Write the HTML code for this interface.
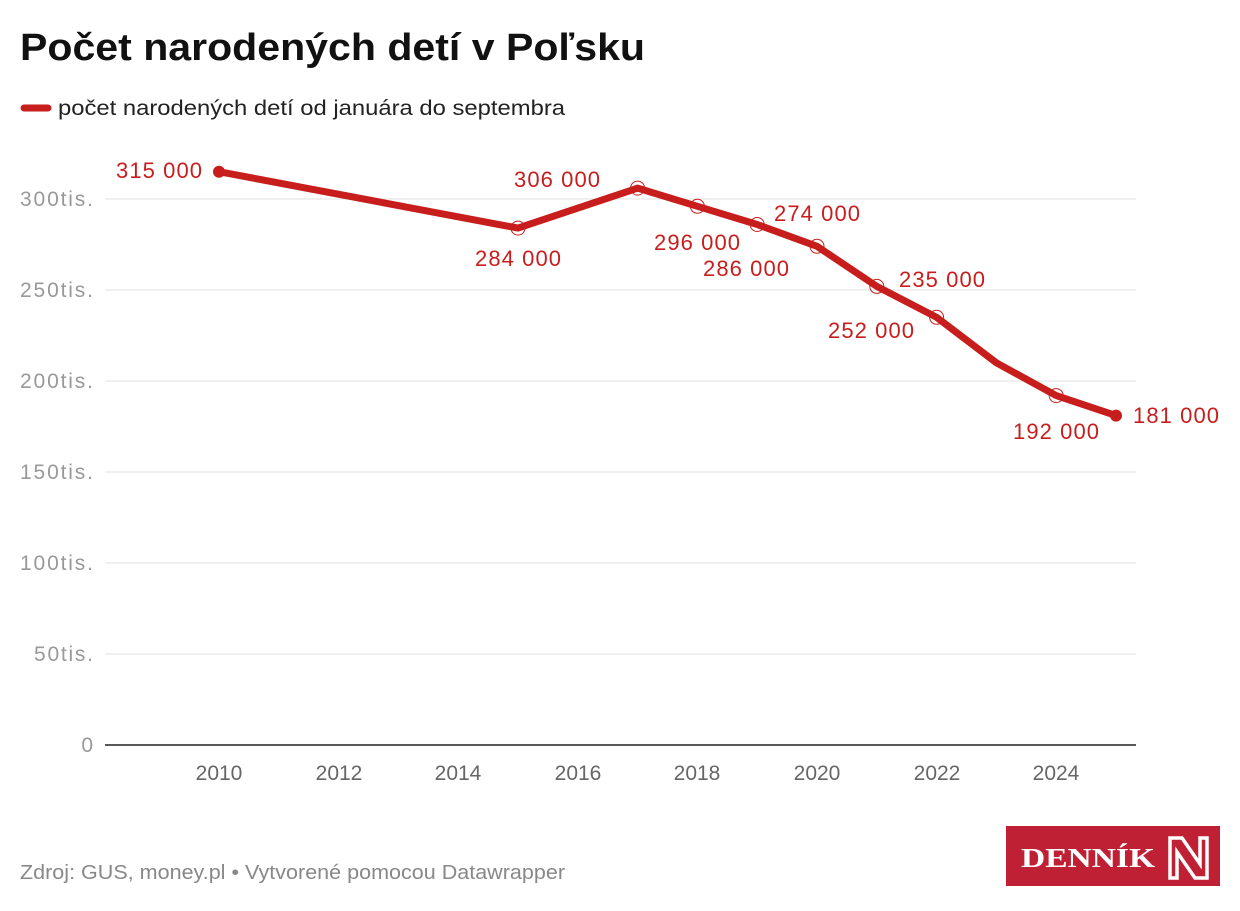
<!DOCTYPE html>
<html><head><meta charset="utf-8"><style>
body{margin:0;width:1240px;height:906px;background:#fff;font-family:"Liberation Sans",sans-serif;overflow:hidden}
</style></head><body>
<svg width="1240" height="906" xmlns="http://www.w3.org/2000/svg" font-family="Liberation Sans, sans-serif">
<text x="20" y="60" font-size="38" font-weight="bold" fill="#111" textLength="625" lengthAdjust="spacingAndGlyphs">Počet narodených detí v Poľsku</text>
<line x1="24" y1="108" x2="48" y2="108" stroke="#c71e1d" stroke-width="7" stroke-linecap="round"/>
<text x="58" y="115" font-size="21" fill="#222" textLength="507" lengthAdjust="spacingAndGlyphs">počet narodených detí od januára do septembra</text>
<g stroke="#e0e0e0" stroke-width="1">
<line x1="105" y1="654" x2="1136" y2="654"/><line x1="105" y1="563" x2="1136" y2="563"/>
<line x1="105" y1="472" x2="1136" y2="472"/><line x1="105" y1="381" x2="1136" y2="381"/>
<line x1="105" y1="290" x2="1136" y2="290"/><line x1="105" y1="199" x2="1136" y2="199"/>
</g>
<line x1="105" y1="745" x2="1136" y2="745" stroke="#222" stroke-width="1.5"/>
<g font-size="21" fill="#999" text-anchor="end">
<text x="93" y="752">0</text><text x="93" y="661" textLength="59">50tis.</text><text x="93" y="570" textLength="73">100tis.</text>
<text x="93" y="479" textLength="73">150tis.</text><text x="93" y="388" textLength="73">200tis.</text><text x="93" y="297" textLength="73">250tis.</text><text x="93" y="206" textLength="73">300tis.</text>
</g>
<g font-size="21" fill="#666" text-anchor="middle">
<text x="219" y="780">2010</text><text x="339" y="780">2012</text><text x="458" y="780">2014</text>
<text x="578" y="780">2016</text><text x="697" y="780">2018</text><text x="817" y="780">2020</text>
<text x="937" y="780">2022</text><text x="1056" y="780">2024</text>
</g>
<polyline fill="none" stroke="#c71e1d" stroke-width="7" stroke-linejoin="round" stroke-linecap="round"
points="219,171.7 518,228.1 637.6,188.1 697.4,206.3 757.2,224.5 817,246.3 876.8,286.4 936.6,317.3 996.4,362.8 1056.2,395.6 1116,415.6"/>
<g fill="none" stroke="#c71e1d" stroke-width="1">
<circle cx="518" cy="228.1" r="7"/><circle cx="637.6" cy="188.1" r="7"/><circle cx="697.4" cy="206.3" r="7"/>
<circle cx="757.2" cy="224.5" r="7"/><circle cx="817" cy="246.3" r="7"/><circle cx="876.8" cy="286.4" r="7"/>
<circle cx="936.6" cy="317.3" r="7"/><circle cx="1056.2" cy="395.6" r="7"/>
</g>
<circle cx="219" cy="171.7" r="6" fill="#c71e1d"/><circle cx="1116" cy="415.6" r="6" fill="#c71e1d"/>
<g font-size="22" fill="#c71e1d">
<text x="116" y="178" textLength="86">315 000</text>
<text x="475" y="266" textLength="86">284 000</text>
<text x="514" y="187" textLength="86">306 000</text>
<text x="654" y="250" textLength="86">296 000</text>
<text x="703" y="276" textLength="86">286 000</text>
<text x="774" y="221" textLength="86">274 000</text>
<text x="828" y="338" textLength="86">252 000</text>
<text x="899" y="287" textLength="86">235 000</text>
<text x="1013" y="439" textLength="86">192 000</text>
<text x="1133" y="423" textLength="86">181 000</text>
</g>
<text x="20" y="879" font-size="20" fill="#888" textLength="545" lengthAdjust="spacingAndGlyphs">Zdroj: GUS, money.pl • Vytvorené pomocou Datawrapper</text>
<rect x="1006" y="826" width="214" height="60" fill="#c02034"/>
<text x="1021" y="867" font-size="27" font-weight="bold" fill="#fff" font-family="Liberation Serif, serif" textLength="134" lengthAdjust="spacingAndGlyphs">DENNÍK</text>
<path d="M1170 838 h12 l18 26 v-26 h7 v40 h-12 l-18 -26 v26 h-7z" fill="none" stroke="#fff" stroke-width="3.5"/>
</svg>
</body></html>
